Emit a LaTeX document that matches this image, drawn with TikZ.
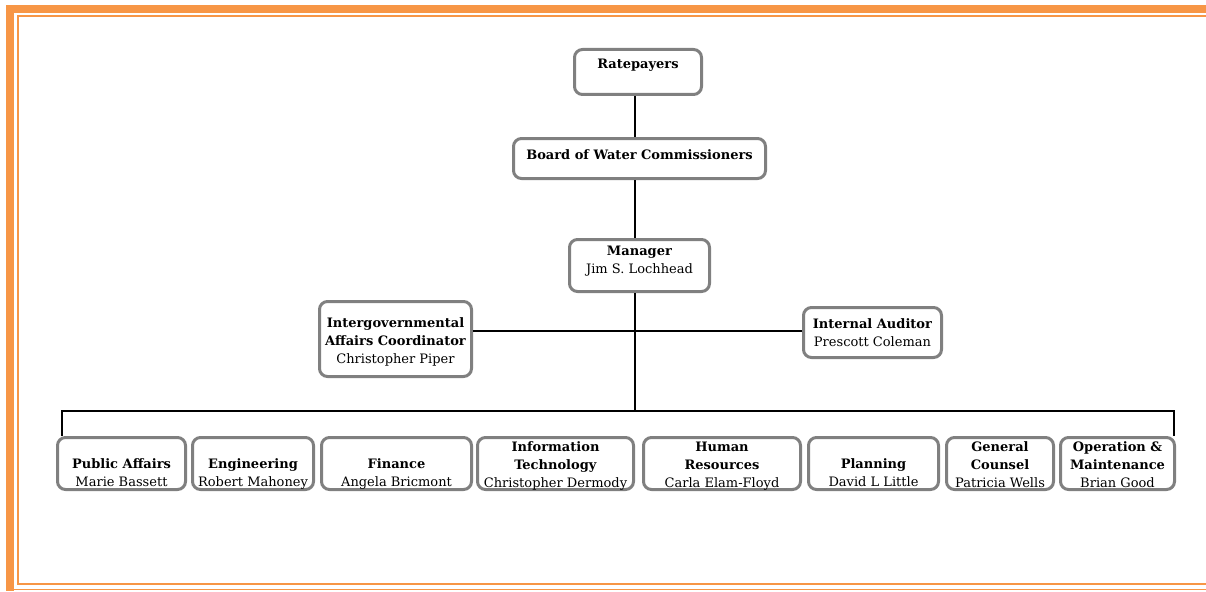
\documentclass[tikz,border=0pt]{standalone}
\usepackage{fontspec}
\setmainfont{DejaVu Serif}
\definecolor{rim}{RGB}{247,150,70}
\definecolor{boxgray}{RGB}{128,128,128}
\begin{document}
\begin{tikzpicture}[x=1pt,y=-1pt,
  box/.style={draw=boxgray,line width=3pt,rounded corners=8pt,inner sep=0pt,
    align=center,font=\fontsize{13}{18}\selectfont},
  unit/.style={box,minimum height=52},
  link/.style={line width=2pt}]
\useasboundingbox (0,0) rectangle (1206,591);
\fill[rim] (6,5) rectangle (1206,13);
\fill[rim] (6,5) rectangle (14,591);
\draw[rim,line width=2pt] (1206,16.5) -| (18,584) -- (1206,584);
\draw[rim,line width=1.5pt] (14,589.5) -- (1206,589.5);
\coordinate (hub) at (635,331);
\coordinate (bus) at (635,411);
\node[box,minimum width=127,minimum height=45] (rate) at (638,72) {\textbf{Ratepayers}\\[-2pt]\mbox{}};
\node[box,minimum width=252,minimum height=40] (board) at (639.5,158.5) {\textbf{Board of Water Commissioners}\\[-10pt]\mbox{}};
\node[box,minimum width=140,minimum height=52] (mgr) at (639.5,265.5) {\textbf{Manager}\\Jim S. Lochhead\\[-6pt]\mbox{}};
\node[box,minimum width=152,minimum height=75] (igac) at (395.5,339) {\mbox{}\\[-3.3pt]\textbf{Intergovernmental}\\\textbf{Affairs Coordinator}\\Christopher Piper};
\node[box,minimum width=138,minimum height=50] (aud) at (872.5,332.5) {\textbf{Internal Auditor}\\Prescott Coleman};
\node[unit,minimum width=128] (pa) at (121.5,463.5) {\phantom{X}\\\textbf{Public Affairs}\\\smash{Marie Bassett}};
\node[unit,minimum width=121] (eng) at (253,463.5) {\phantom{X}\\\textbf{Engineering}\\\smash{Robert Mahoney}};
\node[unit,minimum width=150] (fin) at (396.5,463.5) {\phantom{X}\\\textbf{Finance}\\\smash{Angela Bricmont}};
\node[unit,minimum width=156] (it) at (555.5,463.5) {\mbox{}\\[-7pt]\textbf{Information}\\\textbf{Technology}\\\smash{Christopher Dermody}};
\node[unit,minimum width=157] (hr) at (722,463.5) {\mbox{}\\[-7pt]\textbf{Human}\\\textbf{Resources}\\\smash{Carla Elam-Floyd}};
\node[unit,minimum width=130] (plan) at (873.5,463.5) {\phantom{X}\\\textbf{Planning}\\\smash{David L Little}};
\node[unit,minimum width=107] (gc) at (1000,463.5) {\mbox{}\\[-7pt]\textbf{General}\\\textbf{Counsel}\\\smash{Patricia Wells}};
\node[unit,minimum width=114] (om) at (1117.5,463.5) {\mbox{}\\[-7pt]\textbf{Operation \&}\\\textbf{Maintenance}\\\smash{Brian Good}};
\draw[link] (rate.south -| hub) -- (board.north -| hub);
\draw[link] (board.south -| hub) -- (mgr.north -| hub);
\draw[link] (mgr.south -| hub) -- (bus);
\draw[link] (igac.east |- hub) -- (aud.west |- hub);
\draw[link] ([xshift=5.5]pa.north west) |- (bus) -| ([xshift=-2.5]om.north east);
\end{tikzpicture}
\end{document}
